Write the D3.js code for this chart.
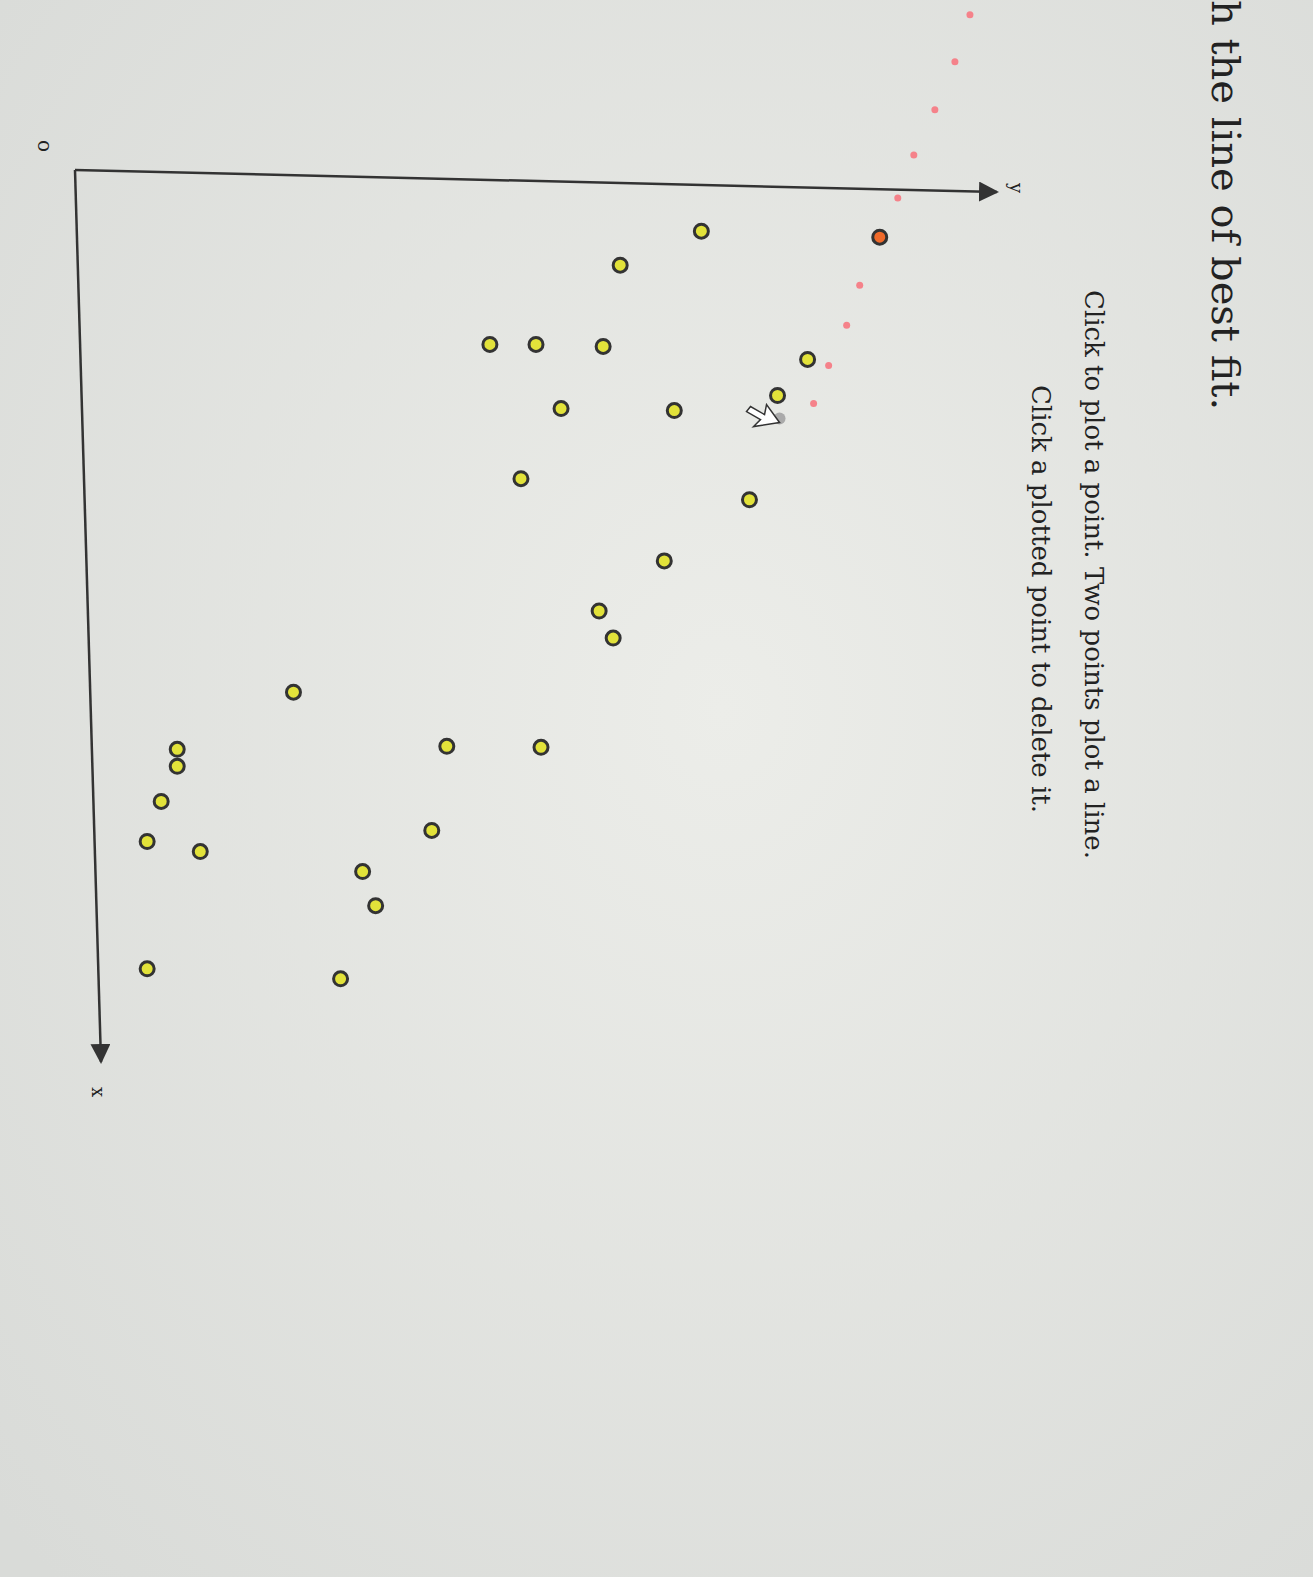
<!DOCTYPE html>
<html><head><meta charset="utf-8">
<script src="https://cdn.jsdelivr.net/npm/d3@7"></script>
<style>body{margin:0;background:#e3e5e1;overflow:hidden}</style>
</head><body>
<script>
// logical data: x = distance along x-axis (downward), y = along y-axis (rightward)
const pointX = [6.1,9.5,6.7,17.4,17.4,17.6,18.9,22.5,23.8,24,30.8,32.9,39,44,46.7,52.1,57.5,57.6,57.8,59.5,63,67,68,65.9,70,73.4,79.7,80.7];
const pointY = [62.5,54.4,80.3,41.4,46,52.7,73.1,70.1,48.5,59.8,44.5,67.3,58.8,52.3,53.7,21.8,37.1,46.5,10.2,10.2,8.6,7.2,12.5,35.6,28.7,30,7.2,26.5];
const highlighted = [2];
const lineX = [-15.5,-10.8,-6,-1.5,2.8,6.7,11.5,15.5,19.5,23.3];
const lineY = [89.3,87.8,85.8,83.7,82.1,80.3,78.3,77,75.2,73.7];
const cursorX = [24.8], cursorY = [70.3];
const title = "h the line of best fit.";
const instr1 = "Click to plot a point. Two points plot a line.";
const instr2 = "Click a plotted point to delete it.";

const W=1313,H=1577;
const svg=d3.select("body").append("svg").attr("width",W).attr("height",H);
const defs=svg.append("defs");
const g=defs.append("radialGradient").attr("id","bg").attr("cx","55%").attr("cy","45%").attr("r","75%");
g.append("stop").attr("offset","0%").attr("stop-color","#ecede9");
g.append("stop").attr("offset","100%").attr("stop-color","#d9dbd8");
svg.append("rect").attr("width",W).attr("height",H).attr("fill","url(#bg)");
defs.append("marker").attr("id","arr").attr("viewBox","0 0 10 10").attr("refX",9).attr("refY",5)
 .attr("markerWidth",8).attr("markerHeight",8).attr("orient","auto")
 .append("path").attr("d","M0,0L10,5L0,10z").attr("fill","#333");

const sx=d3.scaleLinear().domain([0,89]).range([170,1062]); // vertical pixel
const sy=d3.scaleLinear().domain([0,92]).range([75,997]);   // horizontal pixel

// axes
svg.append("line").attr("x1",sy(0)).attr("y1",sx(0)).attr("x2",sy(92)).attr("y2",sx(0)+22)
 .attr("stroke","#333").attr("stroke-width",2.5).attr("marker-end","url(#arr)");
svg.append("line").attr("x1",sy(0)).attr("y1",sx(0)).attr("x2",sy(0)+26).attr("y2",sx(89))
 .attr("stroke","#333").attr("stroke-width",2.5).attr("marker-end","url(#arr)");
function rtext(x,y,t,size,fam){svg.append("text").attr("transform",`translate(${x},${y}) rotate(90)`)
 .attr("font-family",fam||"DejaVu Serif").attr("font-size",size).attr("fill","#222").text(t);}
rtext(1010,183,"y",18,"DejaVu Serif");
rtext(92,1087,"x",18,"DejaVu Serif");
rtext(38,140,"o",20);
rtext(1212,0,title,40);
rtext(1085,290,instr1,26);
rtext(1032,385,instr2,26);

// fitted-line dots
svg.selectAll(".ld").data(lineX).join("circle").attr("cx",(d,i)=>sy(lineY[i])).attr("cy",d=>sx(d))
 .attr("r",3.5).attr("fill","#f5828a");
// points
svg.selectAll(".pt").data(pointX).join("circle").attr("cx",(d,i)=>sy(pointY[i])).attr("cy",d=>sx(d))
 .attr("r",7).attr("fill",(d,i)=>highlighted.includes(i)?"#f06a2a":"#e2e23a").attr("stroke","#333").attr("stroke-width",3);
// cursor
svg.selectAll(".cu").data(cursorX).join("circle").attr("cx",(d,i)=>sy(cursorY[i])).attr("cy",d=>sx(d))
 .attr("r",6).attr("fill","#aaa");
const cx=sy(cursorY[0]),cy=sx(cursorX[0]);
svg.append("path").attr("d",`M${cx},${cy+4}l-26,4l7,-7l-14,-8l4,-5l14,8l2,-10z`).attr("fill","#fff").attr("stroke","#333").attr("stroke-width",1.5);
</script>
</body></html>
